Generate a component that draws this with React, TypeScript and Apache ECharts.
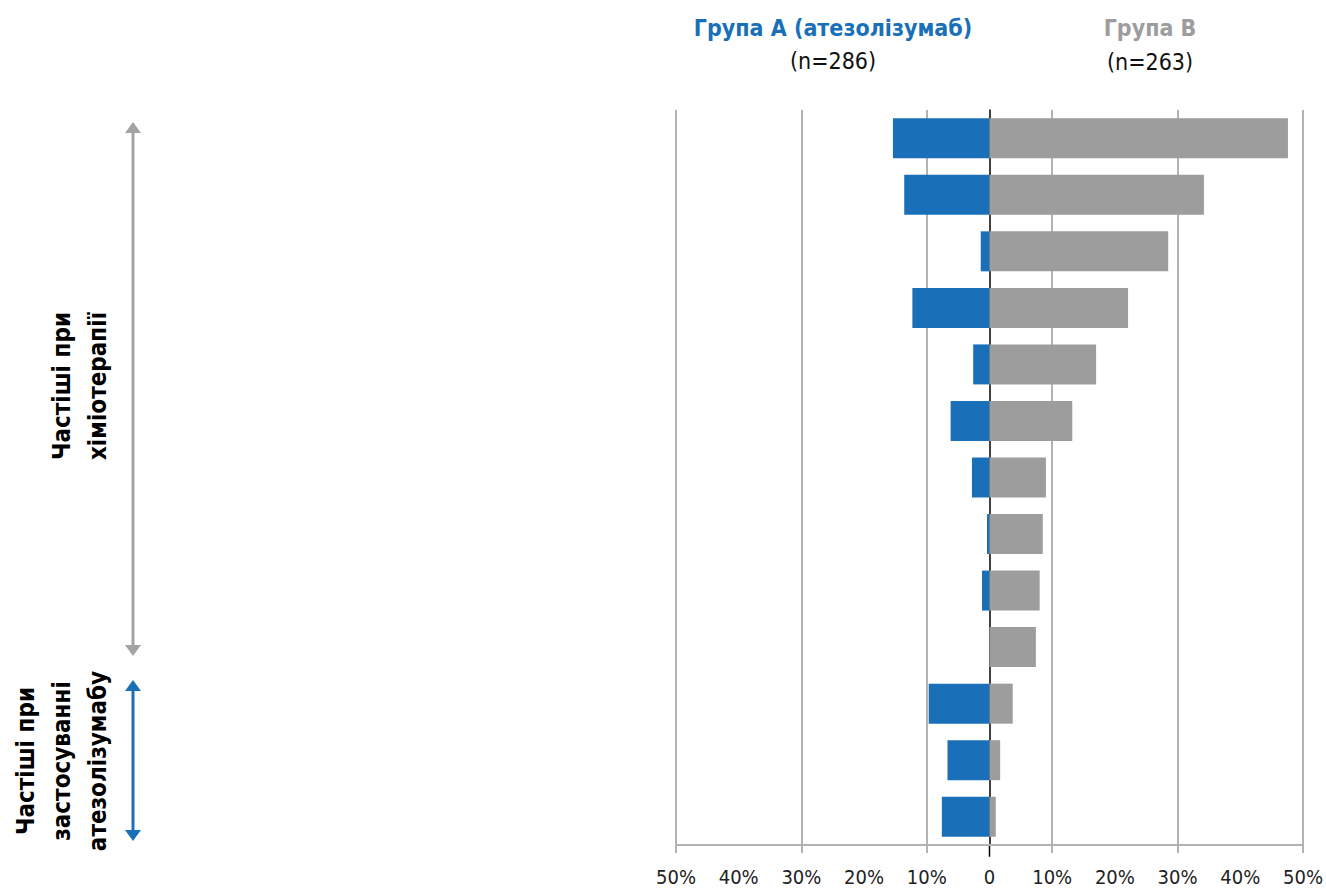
import React, { useEffect, useRef } from "react";
import * as echarts from "echarts";

const categories = ["1", "2", "3", "4", "5", "6", "7", "8", "9", "10", "11", "12", "13"];
const groupA = [15.4, 13.6, 1.4, 12.3, 2.6, 6.2, 2.8, 0.4, 1.2, 0, 9.7, 6.7, 7.6];
const groupB = [47.6, 34.2, 28.5, 22.1, 17.0, 13.2, 9.0, 8.5, 8.0, 7.4, 3.7, 1.7, 1.0];

const BLUE = "#1a70b8";
const GRAY = "#9d9d9d";
const FONT = "'Liberation Sans Narrow', 'DejaVu Sans Condensed', 'Roboto', sans-serif";

export default function App() {
  const ref = useRef<HTMLDivElement>(null);
  useEffect(() => {
    document.body.style.margin = "0";
    const chart = echarts.init(ref.current!, null, { renderer: "svg" });
    const arrow = (x: number, y1: number, y2: number, color: string) => [
      { type: "line", shape: { x1: x, y1: y1 + 10, x2: x, y2: y2 - 10 }, style: { stroke: color, lineWidth: 3 } },
      { type: "polygon", shape: { points: [[x, y1], [x - 8, y1 + 11], [x + 8, y1 + 11]] }, style: { fill: color } },
      { type: "polygon", shape: { points: [[x, y2], [x - 8, y2 - 11], [x + 8, y2 - 11]] }, style: { fill: color } },
    ];
    const graphics: any[] = [
      { type: "text", x: 833, y: 28, style: { text: "Група А (атезолізумаб)", fill: BLUE, font: `bold 23px ${FONT}`, align: "center", verticalAlign: "middle" } },
      { type: "text", x: 833, y: 61, style: { text: "(n=286)", fill: "#111", font: `23px ${FONT}`, align: "center", verticalAlign: "middle" } },
      { type: "text", x: 1150, y: 28, style: { text: "Група В", fill: GRAY, font: `bold 23px ${FONT}`, align: "center", verticalAlign: "middle" } },
      { type: "text", x: 1150, y: 62, style: { text: "(n=263)", fill: "#111", font: `23px ${FONT}`, align: "center", verticalAlign: "middle" } },
      { type: "text", x: 80, y: 386, rotation: Math.PI / 2, style: { text: "Частіші при\nхіміотерапії", fill: "#000", font: `bold 24px ${FONT}`, lineHeight: 36, align: "center", verticalAlign: "middle" } },
      { type: "text", x: 62, y: 761, rotation: Math.PI / 2, style: { text: "Частіші при\nзастосуванні\nатезолізумабу", fill: "#000", font: `bold 24px ${FONT}`, lineHeight: 36, align: "center", verticalAlign: "middle" } },
      ...arrow(133, 122, 656, "#a3a3a3"),
      ...arrow(133, 680, 841, BLUE),
    ];
    const option: any = {
      animation: false,
      grid: { left: 676, right: 20, top: 110, bottom: 45, containLabel: false },
      xAxis: [
        {
          type: "value",
          min: -50,
          max: 50,
          interval: 10,
          position: "bottom",
          axisLine: { show: true, onZero: false, lineStyle: { color: "#b3b3b3", width: 2 } },
          axisTick: { show: false },
          splitLine: { show: false },
          axisLabel: {
            margin: 22,
            fontFamily: FONT,
            fontSize: 20,
            color: "#222",
            formatter: (v: number) => (v === 0 ? "0" : Math.abs(v) + "%"),
          },
        },
        {
          type: "value",
          min: -50,
          max: 50,
          interval: 20,
          position: "bottom",
          axisLine: { show: false },
          axisTick: { show: true, length: 8, lineStyle: { color: "#b3b3b3", width: 2 } },
          splitLine: { show: true, lineStyle: { color: "#b3b3b3", width: 2 } },
          axisLabel: { show: false },
        },
      ],
      yAxis: {
        type: "category",
        data: categories,
        inverse: true,
        axisLine: { show: true, onZero: true, lineStyle: { color: "#000", width: 1.5 } },
        axisTick: { show: false },
        axisLabel: { show: false },
      },
      series: [
        {
          type: "bar",
          stack: "t",
          xAxisIndex: 0,
          barWidth: 40,
          data: groupA.map((v) => -v),
          itemStyle: { color: BLUE },
        },
        {
          type: "bar",
          stack: "t",
          xAxisIndex: 0,
          barWidth: 40,
          data: groupB,
          itemStyle: { color: GRAY },
        },
      ],
      graphic: graphics,
    };
    chart.setOption(option);
    const zx = chart.convertToPixel({ xAxisIndex: 0 }, 0) as number;
    const yb = chart.convertToPixel({ yAxisIndex: 0 }, categories[categories.length - 1]) as number;
    if (typeof zx === "number" && typeof yb === "number") {
      graphics.push({
        type: "line",
        shape: { x1: zx, y1: yb + 28, x2: zx, y2: yb + 40 },
        style: { stroke: "#000", lineWidth: 1.5 },
      });
      chart.setOption({ graphic: graphics });
    }
    return () => chart.dispose();
  }, []);
  return <div ref={ref} style={{ width: 1326, height: 890 }} />;
}
